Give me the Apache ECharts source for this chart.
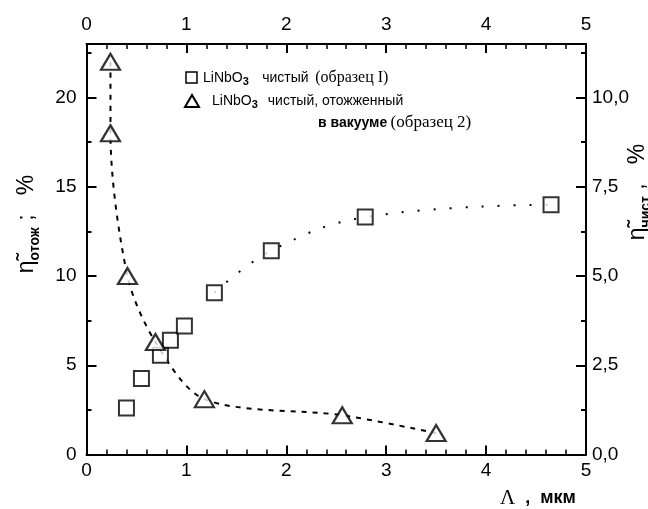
<!DOCTYPE html>
<html><head><meta charset="utf-8">
<script src="https://cdn.jsdelivr.net/npm/echarts@6/dist/echarts.min.js"></script>
<style>html,body{margin:0;padding:0;background:#fff}#c{width:648px;height:509px}</style>
</head><body><div id="c"></div>
<script>
// Sample 2: annealed (triangles, left axis, %)
const xTri = [0.24, 0.24, 0.41, 0.69, 1.18, 2.56, 3.50];
const yTri = [22.0, 18.0, 10.0, 6.3, 3.1, 2.2, 1.2];
// Sample 1: pure (squares, right axis, %)
const xSq = [0.40, 0.55, 0.74, 0.84, 0.98, 1.28, 1.85, 2.79, 4.65];
const ySq = [1.30, 2.13, 2.78, 3.20, 3.60, 4.53, 5.71, 6.65, 7.00];
// fitted dotted curve through squares starts at this index
const sqFitStart = 5;
// axes
const xMin = 0, xMax = 5, xStep = 1;
const yLeftMax = 23, yLeftStep = 5;
const yRightMax = 11.5, yRightStep = 2.5;

const F = 'Liberation Sans';
const black = '#000';
const pairs = (xs, ys) => xs.map((x, i) => [x, ys[i]]);

function xAx(pos) {
  return {
    type: 'value', position: pos, min: xMin, max: xMax, interval: xStep,
    axisLine: {show: true, onZero: false, lineStyle: {color: black, width: 2}},
    axisTick: {show: true, inside: true, length: 9, lineStyle: {color: black, width: 2}},
    minorTick: {show: true, splitNumber: 5, length: 5, lineStyle: {color: black, width: 1.5}},
    axisLabel: {color: black, fontSize: 19, fontFamily: F, margin: pos === 'top' ? 10 : 7},
    splitLine: {show: false}, minorSplitLine: {show: false}
  };
}
function yAx(pos, max, step, len, labels, fmt) {
  return {
    type: 'value', position: pos, min: 0, max: max, interval: step,
    axisLine: {show: labels, onZero: false, lineStyle: {color: black, width: 2}},
    axisTick: {show: true, inside: true, length: len, lineStyle: {color: black, width: 2}},
    axisLabel: {show: labels, color: black, fontSize: 19, fontFamily: F, margin: pos === 'left' ? 10 : 6,
      showMaxLabel: false, formatter: fmt},
    splitLine: {show: false}
  };
}

const sub = {fontFamily: F, fontSize: 11, fontWeight: 'bold', fill: black, verticalAlign: 'bottom', padding: [8, 0, 0, 0]};

const chart = echarts.init(document.getElementById('c'), null, {renderer: 'canvas'});
chart.setOption({
  backgroundColor: '#fff',
  animation: false,
  grid: {left: 86.5, right: 62, top: 44, bottom: 54.5, containLabel: false},
  xAxis: [xAx('bottom'), xAx('top')],
  yAxis: [
    yAx('left', yLeftMax, yLeftStep, 10, true, v => String(v)),
    yAx('right', yRightMax, yRightStep, 10, true, v => v.toFixed(1).replace('.', ',')),
    yAx('left', yLeftMax, yLeftStep / 2, 5, false),
    yAx('right', yRightMax, yRightStep / 2, 5, false)
  ],
  series: [
    {type: 'line', xAxisIndex: 0, yAxisIndex: 0, data: pairs(xTri, yTri), showSymbol: false, smooth: 0.3,
     lineStyle: {color: black, width: 2, type: [5, 6]}, z: 2},
    {type: 'line', xAxisIndex: 0, yAxisIndex: 1, data: pairs(xSq.slice(sqFitStart), ySq.slice(sqFitStart)),
     showSymbol: false, smooth: 0.4, lineStyle: {color: black, width: 2, type: [2, 14]}, z: 2},
    {type: 'scatter', xAxisIndex: 0, yAxisIndex: 1, data: pairs(xSq, ySq), symbol: 'rect', symbolSize: 15,
     itemStyle: {color: '#fff', borderColor: black, borderWidth: 2}, z: 3},
    {type: 'scatter', xAxisIndex: 0, yAxisIndex: 0, data: pairs(xTri, yTri), symbol: 'triangle', symbolSize: [19, 16],
     itemStyle: {color: '#fff', borderColor: black, borderWidth: 2.2}, z: 4}
  ],
  graphic: [
    // legend
    {type: 'rect', shape: {x: 186, y: 72, width: 11, height: 11}, style: {fill: '#fff', stroke: black, lineWidth: 1.5}},
    {type: 'text', x: 203, y: 78, style: {
      text: '{a|LiNbO}{s|3}    {a|чистый}  {b|(образец I)}',
      textVerticalAlign: 'middle', verticalAlign: 'middle', fill: black,
      rich: {a: {fontFamily: F, fontSize: 14, fill: black}, s: sub,
             b: {fontFamily: 'Liberation Serif', fontSize: 16, fill: black}}}},
    {type: 'polygon', shape: {points: [[192, 95], [185, 107], [199, 107]]}, style: {fill: '#fff', stroke: black, lineWidth: 2}},
    {type: 'text', x: 212, y: 101, style: {
      text: '{a|LiNbO}{s|3}   {a|чистый, отожженный}',
      textVerticalAlign: 'middle', verticalAlign: 'middle', fill: black,
      rich: {a: {fontFamily: F, fontSize: 14, fill: black}, s: sub}}},
    {type: 'text', x: 318, y: 123, style: {
      text: '{a|в вакууме} {b|(образец 2)}',
      textVerticalAlign: 'middle', verticalAlign: 'middle', fill: black,
      rich: {a: {fontFamily: F, fontSize: 14, fontWeight: 'bold', fill: black},
             b: {fontFamily: 'Liberation Serif', fontSize: 17, fill: black}}}},
    // axis names
    {type: 'text', x: 27, y: 224, rotation: Math.PI / 2, style: {
      text: '{e|η̃}{s|отож}{e| ;   %}',
      textAlign: 'center', align: 'center', textVerticalAlign: 'middle', verticalAlign: 'middle', fill: black,
      rich: {e: {fontFamily: F, fontSize: 23, fill: black},
             s: {fontFamily: F, fontSize: 14, fontWeight: 'bold', fill: black, verticalAlign: 'bottom', padding: [16, 0, 0, 0]}}}},
    {type: 'text', x: 638, y: 192, rotation: Math.PI / 2, style: {
      text: '{e|η̃}{s|чист}{e| ,   %}',
      textAlign: 'center', align: 'center', textVerticalAlign: 'middle', verticalAlign: 'middle', fill: black,
      rich: {e: {fontFamily: F, fontSize: 23, fill: black},
             s: {fontFamily: F, fontSize: 14, fontWeight: 'bold', fill: black, verticalAlign: 'bottom', padding: [16, 0, 0, 0]}}}},
    {type: 'text', x: 500, y: 498, style: {
      text: '{l|Λ}{m|  ,  мкм}',
      textAlign: 'left', align: 'left', textVerticalAlign: 'middle', verticalAlign: 'middle', fill: black,
      rich: {l: {fontFamily: 'Liberation Serif', fontSize: 21, fill: black},
             m: {fontFamily: F, fontSize: 18, fontWeight: 'bold', fill: black}}}}
  ]
});
</script></body></html>
